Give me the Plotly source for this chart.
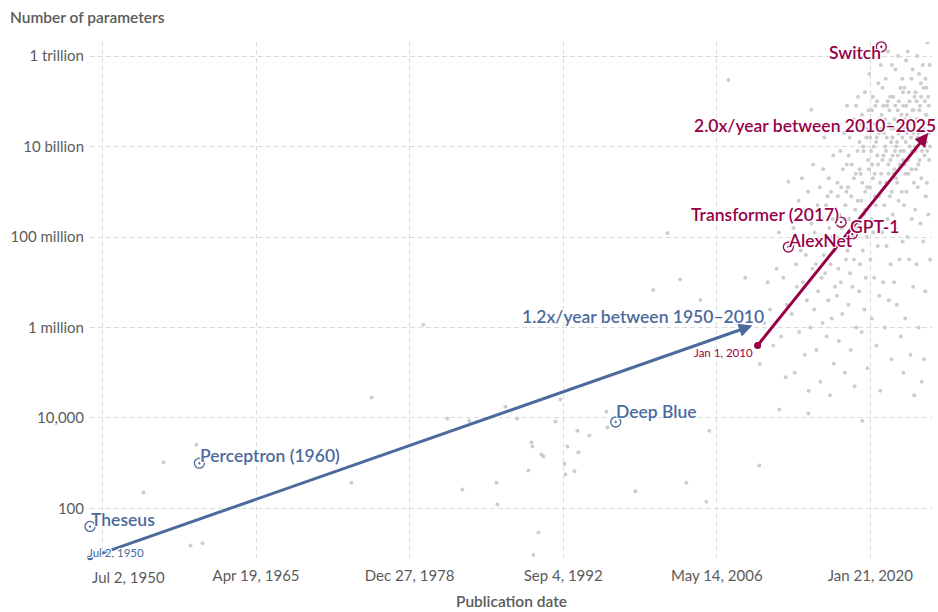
import math
from datetime import date, timedelta
import plotly.graph_objects as go

# ---------------- data ----------------
# notable models
model_names = ["Theseus", "Perceptron (1960)", "Deep Blue", "AlexNet",
               "Transformer (2017)", "GPT-1", "Switch"]
model_dates = ["1950-07-02", "1960-03-30", "1997-05-11", "2012-09-30",
               "2017-06-12", "2018-06-11", "2021-01-11"]
model_params = [40, 1000, 8150, 60e6, 213e6, 117e6, 1.6e12]
model_era = ["early", "early", "early", "deep", "deep", "deep", "deep"]

# trend lines (start, end)
trend_early_dates = ["1950-07-02", "2009-07-15"]
trend_early_values = [8.3, 1.1e6]
trend_early_label = "1.2x/year between 1950–2010"
trend_early_start_label = "Jul 2, 1950"
trend_deep_dates = ["2010-01-01", "2025-03-20"]
trend_deep_values = [4.0e5, 2.0e10]
trend_deep_label = "2.0x/year between 2010–2025"
trend_deep_start_label = "Jan 1, 2010"

# other models: (decimal year, log10 of parameters)
other_models = [
    (1955.26, 2.35), (1957.04, 3.02), (1959.98, 3.41), (1959.45, 1.18), (1960.52, 1.23),
    (1973.8, 2.57), (1975.6, 4.45), (1980.2, 6.06),
    (1982.35, 3.99), (1983.69, 2.42), (1984.31, 3.94), (1986.72, 2.57), (1986.81, 2.09),
    (1987.52, 4.25), (1988.57, 3.99), (1989.58, 2.84), (1989.84, 3.46), (1989.93, 3.37),
    (1990.02, 0.97), (1990.47, 1.47), (1990.73, 3.19), (1990.91, 3.15), (1991.98, 3.92),
    (1992.43, 4.41), (1992.78, 2.99), (1992.87, 2.75), (1993.05, 3.37), (1993.67, 2.82),
    (1993.94, 3.72), (1994.03, 3.24), (1995.01, 3.61), (1996.53, 4.14), (1996.61, 3.79),
    (1999.11, 2.38), (2003.65, 2.57), (2005.44, 2.15), (2005.70, 3.72), (2000.7, 6.83),
    (2001.97, 8.09), (2003.1, 7.06), (2004.9, 6.61), (2007.4, 11.47), (2008.9, 7.10),
    (2010.16, 2.95), (2011.94, 4.19), (2014.53, 4.10), (2019.34, 3.94),
    (2010.2, 5.2), (2010.6, 6.1), (2010.9, 7.0),
    (2011.1, 6.4), (2011.4, 5.6), (2011.7, 7.3), (2011.9, 8.1),
    (2012.1, 5.8), (2012.3, 7.1), (2012.5, 4.9), (2012.6, 6.5), (2012.8, 7.8), (2012.95, 8.4),
    (2012.75, 9.22), (2014.8, 10.81),
    (2013.05, 6.3), (2013.2, 8.2), (2013.3, 5.0), (2013.45, 7.4), (2013.5, 6.9), (2013.65, 8.8),
    (2013.7, 5.9), (2013.85, 7.7), (2013.95, 9.3),
    (2014.05, 7.0), (2014.15, 8.6), (2014.2, 5.4), (2014.3, 7.6), (2014.4, 6.6), (2014.5, 9.0),
    (2014.55, 4.6), (2014.65, 7.9), (2014.7, 6.0), (2014.8, 8.3), (2014.9, 7.3), (2014.95, 9.6),
    (2015.05, 6.4), (2015.1, 8.1), (2015.2, 7.4), (2015.25, 5.5), (2015.35, 8.7), (2015.4, 6.8),
    (2015.5, 7.9), (2015.55, 9.1), (2015.6, 4.8), (2015.7, 7.1), (2015.75, 8.4), (2015.8, 6.1),
    (2015.85, 9.5), (2015.9, 7.6), (2015.95, 10.2),
    (2016.02, 7.2), (2016.1, 8.7), (2016.15, 5.8), (2016.2, 7.9), (2016.3, 6.6), (2016.35, 9.3),
    (2016.4, 8.2), (2016.45, 4.5), (2016.5, 7.4), (2016.55, 9.0), (2016.6, 6.2), (2016.7, 8.4),
    (2016.75, 9.8), (2016.8, 5.2), (2016.85, 7.7), (2016.9, 6.9), (2016.95, 10.4),
    (2016.25, 8.9), (2016.65, 8.0),
    (2017.02, 8.0), (2017.08, 6.7), (2017.12, 9.2), (2017.2, 7.3), (2017.25, 5.7), (2017.3, 8.5),
    (2017.38, 9.9), (2017.42, 7.0), (2017.5, 8.2), (2017.55, 6.3), (2017.6, 9.5), (2017.65, 7.8),
    (2017.72, 10.3), (2017.78, 5.0), (2017.82, 8.7), (2017.88, 7.5), (2017.92, 9.0), (2017.97, 10.9),
    (2017.15, 8.9), (2017.45, 9.1), (2017.7, 8.4), (2017.95, 9.6),
    (2018.02, 7.7), (2018.06, 9.1), (2018.1, 6.5), (2018.15, 8.4), (2018.2, 10.2), (2018.25, 7.2),
    (2018.3, 5.5), (2018.35, 8.9), (2018.4, 9.6), (2018.45, 6.9), (2018.5, 8.0), (2018.55, 10.6),
    (2018.6, 7.5), (2018.65, 4.7), (2018.7, 8.6), (2018.75, 9.4), (2018.8, 6.0), (2018.85, 8.2),
    (2018.9, 9.9), (2018.96, 11.1),
    (2018.12, 9.8), (2018.33, 10.4), (2018.58, 9.3), (2018.78, 10.9), (2018.92, 8.8),
    (2019.02, 8.3), (2019.06, 6.8), (2019.1, 9.5), (2019.14, 7.4), (2019.2, 10.5), (2019.24, 8.8),
    (2019.28, 5.9), (2019.33, 9.2), (2019.38, 7.7), (2019.42, 10.0), (2019.47, 8.5), (2019.52, 6.4),
    (2019.56, 11.2), (2019.6, 9.0), (2019.65, 7.1), (2019.7, 10.2), (2019.75, 8.0), (2019.8, 5.1),
    (2019.85, 9.7), (2019.9, 10.8), (2019.96, 11.6),
    (2019.08, 10.1), (2019.18, 9.4), (2019.3, 10.7), (2019.45, 9.9), (2019.58, 8.6), (2019.68, 10.4),
    (2019.78, 9.1), (2019.92, 9.5),
    (2020.02, 9.1), (2020.06, 7.5), (2020.1, 10.4), (2020.14, 8.4), (2020.18, 6.2), (2020.22, 9.6),
    (2020.27, 11.1), (2020.31, 8.1), (2020.36, 10.0), (2020.4, 7.1), (2020.45, 9.4), (2020.5, 10.9),
    (2020.54, 8.7), (2020.58, 5.6), (2020.63, 10.2), (2020.68, 9.8), (2020.72, 7.8), (2020.77, 11.4),
    (2020.82, 8.9), (2020.86, 6.7), (2020.9, 10.6), (2020.94, 4.6), (2020.98, 11.8),
    (2020.04, 10.2), (2020.12, 9.9), (2020.2, 10.8), (2020.29, 9.3), (2020.38, 10.5), (2020.47, 8.9),
    (2020.56, 10.1), (2020.65, 11.0), (2020.74, 9.6), (2020.84, 10.3), (2020.92, 9.2),
    (2021.02, 9.4), (2021.06, 10.7), (2021.1, 8.1), (2021.14, 11.3), (2021.18, 7.0), (2021.22, 9.8),
    (2021.26, 10.3), (2021.3, 8.7), (2021.34, 6.0), (2021.38, 10.0), (2021.42, 11.5), (2021.46, 9.2),
    (2021.5, 7.8), (2021.54, 10.9), (2021.58, 8.4), (2021.62, 12.1), (2021.66, 9.6), (2021.7, 6.6),
    (2021.74, 10.5), (2021.78, 8.9), (2021.82, 11.1), (2021.86, 7.4), (2021.9, 10.1), (2021.94, 5.3),
    (2021.98, 11.8),
    (2021.04, 10.4), (2021.12, 9.7), (2021.2, 10.9), (2021.28, 9.1), (2021.36, 10.6), (2021.44, 9.9),
    (2021.52, 10.2), (2021.6, 11.0), (2021.68, 9.4), (2021.76, 10.8), (2021.84, 9.7), (2021.92, 10.4),
    (2021.96, 9.0),
    (2022.02, 10.2), (2022.05, 8.5), (2022.09, 11.1), (2022.13, 9.4), (2022.17, 7.0), (2022.21, 10.6),
    (2022.25, 9.9), (2022.29, 11.7), (2022.33, 8.2), (2022.37, 10.0), (2022.41, 6.5), (2022.45, 9.2),
    (2022.49, 10.8), (2022.53, 12.0), (2022.57, 8.8), (2022.61, 10.3), (2022.65, 7.5), (2022.69, 9.6),
    (2022.73, 11.3), (2022.77, 5.8), (2022.81, 10.5), (2022.85, 9.0), (2022.89, 11.5), (2022.93, 7.9),
    (2022.96, 9.7), (2022.99, 5.0), (2022.98, 10.9),
    (2022.03, 9.8), (2022.11, 10.4), (2022.19, 9.5), (2022.27, 10.9), (2022.35, 9.3), (2022.43, 10.1),
    (2022.51, 9.8), (2022.59, 11.0), (2022.67, 10.4), (2022.75, 9.9), (2022.83, 10.7), (2022.91, 10.2),
    (2022.97, 11.2),
    (2023.02, 10.4), (2023.05, 8.7), (2023.09, 11.3), (2023.12, 9.6), (2023.16, 6.2), (2023.2, 10.1),
    (2023.24, 11.9), (2023.27, 9.0), (2023.31, 10.7), (2023.35, 8.0), (2023.39, 12.1), (2023.43, 9.4),
    (2023.47, 10.5), (2023.51, 7.5), (2023.55, 11.0), (2023.59, 9.8), (2023.63, 5.4), (2023.67, 10.2),
    (2023.71, 11.5), (2023.75, 8.4), (2023.79, 9.9), (2023.83, 11.7), (2023.87, 6.9), (2023.91, 10.8),
    (2023.94, 9.2), (2023.97, 4.5), (2023.99, 11.1),
    (2023.04, 9.9), (2023.1, 10.6), (2023.18, 9.4), (2023.26, 10.9), (2023.33, 10.3), (2023.41, 9.7),
    (2023.49, 11.2), (2023.57, 10.0), (2023.65, 10.6), (2023.73, 9.5), (2023.81, 10.8), (2023.89, 10.3),
    (2023.96, 9.9),
    (2024.02, 10.0), (2024.05, 8.6), (2024.09, 11.2), (2024.12, 9.5), (2024.16, 7.4), (2024.2, 10.6),
    (2024.24, 12.0), (2024.28, 9.1), (2024.32, 10.3), (2024.36, 6.0), (2024.4, 11.6), (2024.44, 9.7),
    (2024.48, 10.9), (2024.52, 8.3), (2024.56, 11.4), (2024.6, 9.3), (2024.64, 4.8), (2024.68, 10.1),
    (2024.72, 11.8), (2024.76, 7.9), (2024.8, 10.4), (2024.84, 5.3), (2024.88, 9.8), (2024.92, 11.0),
    (2024.95, 6.8), (2024.98, 10.7), (2024.99, 8.9),
    (2024.04, 10.5), (2024.11, 9.9), (2024.18, 11.0), (2024.26, 10.2), (2024.34, 9.6), (2024.42, 10.8),
    (2024.5, 10.1), (2024.58, 11.1), (2024.66, 9.9), (2024.74, 10.5), (2024.82, 11.3), (2024.9, 10.0),
    (2024.97, 11.5),
    (2025.02, 10.1), (2025.06, 11.3), (2025.1, 9.2), (2025.14, 12.3), (2025.18, 10.5), (2025.22, 8.5),
    (2025.26, 10.9), (2025.3, 9.7), (2025.34, 11.8), (2025.38, 7.5),
    (2025.04, 10.7), (2025.12, 9.9), (2025.2, 11.1), (2025.28, 10.3), (2025.36, 10.0),
]

# axes
x_tick_dates = ["1951-08-11", "1965-04-19", "1978-12-27", "1992-09-04", "2006-05-14", "2020-01-21"]
x_tick_labels = ["Jul 2, 1950", "Apr 19, 1965", "Dec 27, 1978", "Sep 4, 1992", "May 14, 2006", "Jan 21, 2020"]
y_tick_values = [1e2, 1e4, 1e6, 1e8, 1e10, 1e12]
y_tick_labels = ["100", "10,000", "1 million", "100 million", "10 billion", "1 trillion"]
x_title = "Publication date"
y_title = "Number of parameters"

# ---------------- style ----------------
BLUE = "#4c6a9c"
RED = "#970046"
GRAY_TXT = "#5b5b5b"
GRID = "#dcdcdc"
DOT = "#cdcdcd"
FONT = "Lato"
era_color = {"early": BLUE, "deep": RED}
HALO = "-1px -1px 0 #fff, 1px -1px 0 #fff, -1px 1px 0 #fff, 1px 1px 0 #fff, 0 0 2px #fff"
# label placement: (xanchor, xshift, yshift)
label_place = {
    "Theseus": ("left", -1, 7),
    "Perceptron (1960)": ("left", -1, 8),
    "Deep Blue": ("left", -2, 10),
    "AlexNet": ("left", -2, 7),
    "Transformer (2017)": ("right", 0, 8),
    "GPT-1": ("left", -4, 7),
    "Switch": ("right", 2, -6),
}


def dec_year(v):
    y = int(v)
    return (date(y, 1, 1) + timedelta(days=round((v - y) * 365.25))).isoformat()


fig = go.Figure()

fig.add_trace(go.Scatter(
    x=[dec_year(p[0]) for p in other_models],
    y=[10 ** p[1] for p in other_models],
    mode="markers", marker=dict(size=4, color=DOT), hoverinfo="skip"))

# trend start dots
fig.add_trace(go.Scatter(x=[trend_early_dates[0]], y=[trend_early_values[0]], mode="markers",
                         marker=dict(size=6, color=BLUE), cliponaxis=False, hoverinfo="skip"))
fig.add_trace(go.Scatter(x=[trend_deep_dates[0]], y=[trend_deep_values[0]], mode="markers",
                         marker=dict(size=7, color=RED), cliponaxis=False, hoverinfo="skip"))

# notable models
for era in ["early", "deep"]:
    idx = [i for i, e in enumerate(model_era) if e == era]
    fig.add_trace(go.Scatter(
        x=[model_dates[i] for i in idx], y=[model_params[i] for i in idx],
        mode="markers", cliponaxis=False,
        marker=dict(symbol="circle-open-dot", size=10, color=era_color[era],
                    line=dict(width=1.3, color=era_color[era])),
        hoverinfo="skip"))

ann = []
# arrows
for dts, vals, col in [(trend_early_dates, trend_early_values, BLUE),
                       (trend_deep_dates, trend_deep_values, RED)]:
    ann.append(dict(x=dts[1], y=math.log10(vals[1]), xref="x", yref="y",
                    ax=dts[0], ay=math.log10(vals[0]), axref="x", ayref="y",
                    text="", showarrow=True, arrowhead=2, arrowsize=0.9,
                    arrowwidth=3, arrowcolor=col, standoff=0, startstandoff=0))

lab_font = dict(family=FONT, size=17.5, weight=600, shadow=HALO)
# trend labels
ann.append(dict(x=trend_early_dates[1], y=math.log10(trend_early_values[1]), xref="x", yref="y",
                text=trend_early_label, showarrow=False, xanchor="right", yanchor="middle",
                xshift=14, yshift=9, font=dict(lab_font, color=BLUE)))
ann.append(dict(x=trend_deep_dates[1], y=math.log10(trend_deep_values[1]), xref="x", yref="y",
                text=trend_deep_label, showarrow=False, xanchor="right", yanchor="middle",
                xshift=10, yshift=7, font=dict(lab_font, color=RED)))
ann.append(dict(x=trend_early_dates[0], y=math.log10(trend_early_values[0]), xref="x", yref="y",
                text=trend_early_start_label, showarrow=False, xanchor="left", yanchor="middle",
                xshift=-4, yshift=5, font=dict(family=FONT, size=11.5, color=BLUE, shadow=HALO)))
ann.append(dict(x=trend_deep_dates[0], y=math.log10(trend_deep_values[0]), xref="x", yref="y",
                text=trend_deep_start_label, showarrow=False, xanchor="right", yanchor="middle",
                xshift=-3, yshift=-7, font=dict(family=FONT, size=11.5, color=RED, shadow=HALO)))

# model labels
for n, d, p, e in zip(model_names, model_dates, model_params, model_era):
    xa, xs, ys = label_place[n]
    ann.append(dict(x=d, y=math.log10(p), xref="x", yref="y", text=n, showarrow=False,
                    xanchor=xa, yanchor="middle", xshift=xs, yshift=ys,
                    font=dict(lab_font, color=era_color[e])))

# first tick label (left-aligned at axis start) and titles
ann.append(dict(x=0, y=0, xref="paper", yref="paper", text=x_tick_labels[0], showarrow=False,
                xanchor="left", yanchor="middle", yshift=-19,
                font=dict(family=FONT, size=15, color=GRAY_TXT)))
ann.append(dict(x=0.5, y=0, xref="paper", yref="paper", text=x_title, showarrow=False,
                xanchor="center", yanchor="middle", yshift=-43,
                font=dict(family=FONT, size=15.5, weight=600, color=GRAY_TXT)))
ann.append(dict(x=-82 / 842, y=1, xref="paper", yref="paper", text=y_title, showarrow=False,
                xanchor="left", yanchor="middle", yshift=25,
                font=dict(family=FONT, size=15.5, weight=600, color=GRAY_TXT)))

fig.update_layout(
    width=938, height=612, autosize=False,
    margin=dict(l=90, r=6, t=42, b=54),
    paper_bgcolor="white", plot_bgcolor="white",
    font=dict(family=FONT, size=15, color=GRAY_TXT),
    showlegend=False,
    annotations=ann,
    xaxis=dict(type="date", range=["1950-06-30", "2025-07-20"],
               tickmode="array", tickvals=x_tick_dates, ticktext=[""] + x_tick_labels[1:],
               showgrid=True, gridcolor=GRID, gridwidth=1, griddash="5px,3px",
               zeroline=False, showline=False, ticks="", ticklabelstandoff=7,
               tickfont=dict(family=FONT, size=15, color=GRAY_TXT)),
    yaxis=dict(type="log", range=[0.905, 12.31],
               tickmode="array", tickvals=y_tick_values, ticktext=y_tick_labels,
               showgrid=True, gridcolor=GRID, gridwidth=1, griddash="5px,3px",
               zeroline=False, showline=False, ticks="", ticklabelstandoff=5,
               tickfont=dict(family=FONT, size=15, color=GRAY_TXT)),
)

fig.write_html("out.html", config={"displayModeBar": False},
               post_script="document.body.style.margin='0';")
